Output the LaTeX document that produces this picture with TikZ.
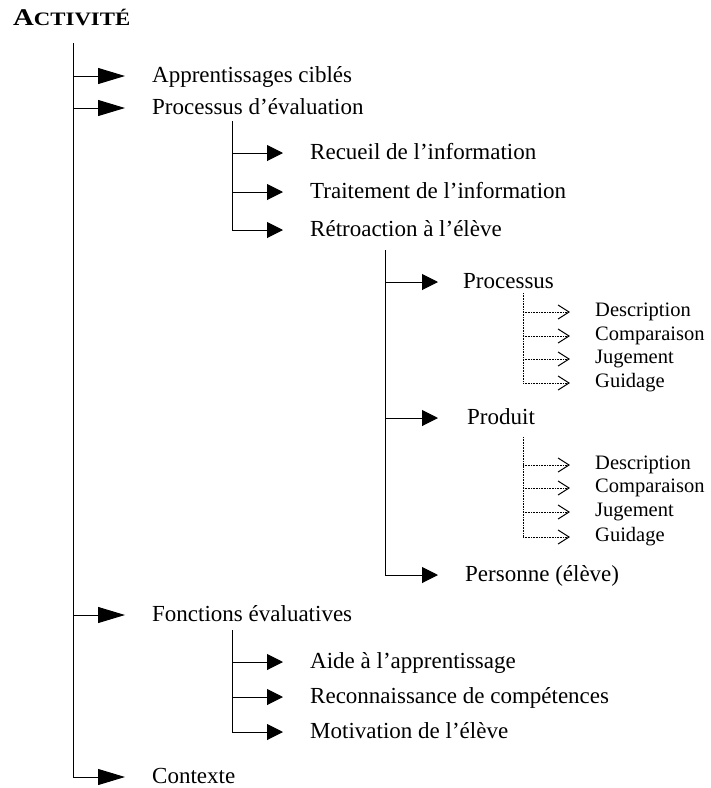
\documentclass[tikz,border=0pt]{standalone}
\usepackage{fontspec}
\setmainfont{Liberation Serif}
\usetikzlibrary{arrows.meta}

\tikzset{
  item/.style={anchor=west,inner ysep=0pt,text height=13pt,text depth=0pt,font=\fontsize{23}{26}\selectfont},
  sub/.style={anchor=west,inner ysep=0pt,inner xsep=25pt,text height=9pt,text depth=0pt,font=\fontsize{20.5}{23}\selectfont},
  bigarrow/.style={line width=1pt,-{Triangle[length=27pt,width=16pt]}},
  midarrow/.style={line width=1pt,-{Triangle[length=16pt,width=16pt]}},
  dotarrow/.style={line width=0.6pt,dash pattern=on 0.8pt off 0.8pt,-{Straight Barb[length=11pt,width=14pt,line width=1pt]}}
}

\begin{document}
\begin{tikzpicture}[x=1pt,y=-1pt]
   \useasboundingbox (0,0) rectangle (711,788);
   \node[anchor=base west,inner sep=0pt] (title) at (13,25) {\scalebox{1.2}[1]{\bfseries\fontsize{24}{26}\selectfont A{\fontsize{19}{20}\selectfont CTIVITÉ}}};

   \node[item,inner xsep=27pt] (app) at (125,76) {Apprentissages ciblés};
   \node[item,inner xsep=27pt] (proc) at (125,108) {Processus d’évaluation};
   \node[item,inner xsep=27pt] (fonc) at (125,615) {Fonctions évaluatives};
   \node[item,inner xsep=27pt] (ctx) at (125,777) {Contexte};
   \coordinate (top) at (73,43);
   \draw[bigarrow] (top |- app.west) -- (app.west);
   \draw[bigarrow] (top |- proc.west) -- (proc.west);
   \draw[bigarrow] (top |- fonc.west) -- (fonc.west);
   \draw[bigarrow] (top) |- (ctx.west);

   \node[item,inner xsep=27pt] (rec) at (283,153) {Recueil de l’information};
   \node[item,inner xsep=27pt] (trt) at (283,192) {Traitement de l’information};
   \node[item,inner xsep=27pt] (retro) at (283,230) {Rétroaction à l’élève};
   \coordinate (ptop) at (232,121);
   \draw[midarrow] (ptop |- rec.west) -- (rec.west);
   \draw[midarrow] (ptop |- trt.west) -- (trt.west);
   \draw[midarrow] (ptop) |- (retro.west);

   \node[item,inner xsep=25pt] (prcs) at (438,282) {Processus};
   \node[item,inner xsep=29pt] (prod) at (438,418) {Produit};
   \node[item,inner xsep=27pt] (pers) at (438,575) {Personne (élève)};
   \coordinate (rtop) at (385,250);
   \draw[midarrow] (rtop |- prcs.west) -- (prcs.west);
   \draw[midarrow] (rtop |- prod.west) -- (prod.west);
   \draw[midarrow] (rtop) |- (pers.west);

   \coordinate (atop) at (523,293);
   \foreach \n/\y/\t in {d1/312/Description,c1/336/Comparaison,j1/359/Jugement,g1/383/Guidage}{
     \node[sub] (\n) at (570,\y) {\t};
     \draw[dotarrow] (atop |- \n.west) -- (\n.west);
   }
   \draw[line width=0.6pt,dash pattern=on 0.8pt off 0.8pt] (atop) -- (atop |- g1.west);
   \coordinate (btop) at (523,437);
   \foreach \n/\y/\t in {d2/465/Description,c2/488/Comparaison,j2/512/Jugement,g2/537/Guidage}{
     \node[sub] (\n) at (570,\y) {\t};
     \draw[dotarrow] (btop |- \n.west) -- (\n.west);
   }
   \draw[line width=0.6pt,dash pattern=on 0.8pt off 0.8pt] (btop) -- (btop |- g2.west);

   \node[item,inner xsep=27pt] (aide) at (283,662) {Aide à l’apprentissage};
   \node[item,inner xsep=27pt] (reco) at (283,697) {Reconnaissance de compétences};
   \node[item,inner xsep=27pt] (moti) at (283,732) {Motivation de l’élève};
   \coordinate (ftop) at (232,630);
   \draw[midarrow] (ftop |- aide.west) -- (aide.west);
   \draw[midarrow] (ftop |- reco.west) -- (reco.west);
   \draw[midarrow] (ftop) |- (moti.west);
\end{tikzpicture}
\end{document}
